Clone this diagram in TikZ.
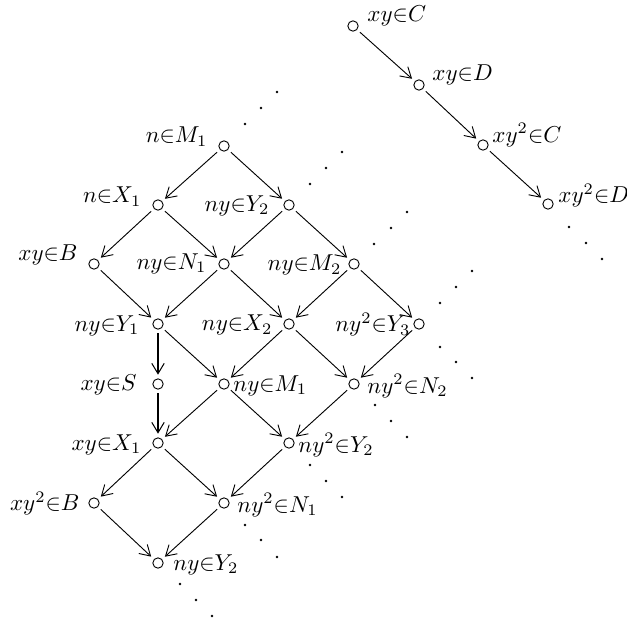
\documentclass[tikz,border=0pt]{standalone}
\usetikzlibrary{arrows.meta}
\begin{document}
\begin{tikzpicture}[x=0.435pt,y=-0.435pt,
  pt/.style={circle,draw,line width=0.4pt,minimum size=4.5pt,inner sep=0pt,outer sep=1.8pt},
  lab/.style={inner sep=0pt,font=\normalsize},
  arr/.style={line width=0.4pt,-{Straight Barb[length=4.5pt,width=5.4pt]}},
  thk/.style={line width=0.85pt,-{Straight Barb[length=4.5pt,width=5.4pt,line width=0.45pt]}},
  dot/.style={fill,circle,inner sep=0pt,minimum size=1.2pt}]
\useasboundingbox (0,0) rectangle (627,620);
% nodes
\node[pt] (nM1) at (224,146) {};
\node[pt] (nX1) at (158,205) {};
\node[pt] (nyY2) at (289,205) {};
\node[pt] (xyB) at (94,264) {};
\node[pt] (nyN1) at (224,264) {};
\node[pt] (nyM2) at (354,264) {};
\node[pt] (nyY1) at (158,324) {};
\node[pt] (nyX2) at (289,324) {};
\node[pt] (ny2Y3) at (419,324) {};
\node[pt] (xyS) at (158,384) {};
\node[pt] (nyM1) at (224,384) {};
\node[pt] (ny2N2) at (354,384) {};
\node[pt] (xyX1) at (158,443) {};
\node[pt] (ny2Y2) at (289,443) {};
\node[pt] (xy2B) at (94,503) {};
\node[pt] (ny2N1) at (224,503) {};
\node[pt] (nyY2b) at (158,563) {};
\node[pt] (xyC) at (353,26) {};
\node[pt] (xyD) at (419,85) {};
\node[pt] (xy2C) at (483,145) {};
\node[pt] (xy2D) at (548,204) {};
% labels
\node[lab,anchor=east] (lnM1) at (208,136.5) {$n{\in}M_1$};
\node[lab,anchor=east] (lnX1) at (142,196.5) {$n{\in}X_1$};
\node[lab,anchor=east] (lnyY2) at (270,205.5) {$ny{\in}Y_2$};
\node[lab,anchor=east] (lxyB) at (78,255) {$xy{\in}B$};
\node[lab,anchor=east] (lnyN1) at (207,263.5) {$ny{\in}N_1$};
\node[lab,anchor=east] (lnyM2) at (342,265) {$ny{\in}M_2$};
\node[lab,anchor=east] (lnyY1) at (140,325.5) {$ny{\in}Y_1$};
\node[lab,anchor=east] (lnyX2) at (273,325) {$ny{\in}X_2$};
\node[lab,anchor=east] (lny2Y3) at (411,324.5) {$ny^2{\in}Y_3$};
\node[lab,anchor=east] (lxyS) at (137,385) {$xy{\in}S$};
\node[lab,anchor=west] (lnyM1) at (233,385.5) {$ny{\in}M_1$};
\node[lab,anchor=east] (lxyX1) at (142,444.5) {$xy{\in}X_1$};
\node[lab,anchor=west] (lny2N2) at (367,386) {$ny^2{\in}N_2$};
\node[lab,anchor=west] (lny2Y2) at (298,445) {$ny^2{\in}Y_2$};
\node[lab,anchor=east] (lxy2B) at (80,503.5) {$xy^2{\in}B$};
\node[lab,anchor=west] (lny2N1) at (237,505) {$ny^2{\in}N_1$};
\node[lab,anchor=west] (lnyY2b) at (173,564.5) {$ny{\in}Y_2$};
\node[lab,anchor=west] (lxyC) at (367,15.5) {$xy{\in}C$};
\node[lab,anchor=west] (lxyD) at (432,75) {$xy{\in}D$};
\node[lab,anchor=west] (lxy2C) at (492,135) {$xy^2{\in}C$};
\node[lab,anchor=west] (lxy2D) at (558,195.5) {$xy^2{\in}D$};
% edges
\draw[arr] (nM1) -- (nX1);
\draw[arr] (nM1) -- (nyY2);
\draw[arr] (nX1) -- (xyB);
\draw[arr] (nX1) -- (nyN1);
\draw[arr] (nyY2) -- (nyN1);
\draw[arr] (nyY2) -- (nyM2);
\draw[arr] (xyB) -- (nyY1);
\draw[arr] (nyN1) -- (nyY1);
\draw[arr] (nyN1) -- (nyX2);
\draw[arr] (nyM2) -- (nyX2);
\draw[arr] (nyM2) -- (ny2Y3);
\draw[thk] (nyY1) -- (xyS);
\draw[arr] (nyY1) -- (nyM1);
\draw[arr] (nyX2) -- (nyM1);
\draw[arr] (nyX2) -- (ny2N2);
\draw[arr] (ny2Y3) -- (ny2N2);
\draw[thk] (xyS) -- (xyX1);
\draw[arr] (nyM1) -- (xyX1);
\draw[arr] (nyM1) -- (ny2Y2);
\draw[arr] (ny2N2) -- (ny2Y2);
\draw[arr] (xyX1) -- (xy2B);
\draw[arr] (xyX1) -- (ny2N1);
\draw[arr] (ny2Y2) -- (ny2N1);
\draw[arr] (xy2B) -- (nyY2b);
\draw[arr] (ny2N1) -- (nyY2b);
\draw[arr] (xyC) -- (xyD);
\draw[arr] (xyD) -- (xy2C);
\draw[arr] (xy2C) -- (xy2D);
% dots
\foreach \x/\y in {245/124,261/108,277/92,
  310/184,326/168,342/152,
  374/244,391/228,407/212,
  440/303,456/287,472/271,
  440/347,456/362,472/378,
  375/405,391/421,407/437,
  310/465,326/481,342/497,
  245/525,261/540,277/557,
  180/584,196/600,212/616,
  569/227,586/243,602/259}
  \node[dot] at (\x,\y) {};
\end{tikzpicture}
\end{document}
